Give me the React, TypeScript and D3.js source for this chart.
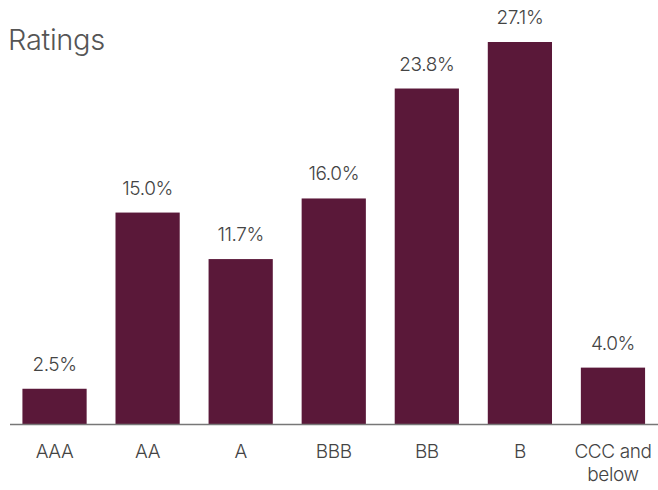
import React from "react";
import * as d3 from "d3";

const categories = ["AAA", "AA", "A", "BBB", "BB", "B", "CCC and below"];
const values = [2.5, 15.0, 11.7, 16.0, 23.8, 27.1, 4.0];
const categoryLines = [["AAA"], ["AA"], ["A"], ["BBB"], ["BB"], ["B"], ["CCC and", "below"]];
const title = "Ratings";

const W = 658;
const H = 490;
const baseY = 424;
const font = "Inter, 'Noto Sans', sans-serif";

export default function App() {
  const x = d3.scaleBand<string>().domain(categories).range([8, 659.5]).paddingInner(0.31).paddingOuter(0.155);
  const y = d3.scaleLinear().domain([0, 27.1]).range([baseY, 42]);
  return (
    <svg width={W} height={H} style={{ position: "absolute", left: 0, top: 0 }} fontFamily={font}>
      <rect width={W} height={H} fill="#fff" />
      <text x={8} y={50} fontSize={29} fill="#555" fontWeight={300} letterSpacing={-0.3}>{title}</text>
      {categories.map((c, i) => {
        const bx = x(c)!;
        const cx = bx + x.bandwidth() / 2;
        return (
          <g key={c}>
            <rect x={bx} y={y(values[i])} width={x.bandwidth()} height={baseY - y(values[i])} fill="#5A1839" />
            <text x={cx} y={y(values[i]) - 18} textAnchor="middle" fontSize={19} fill="#444" fontWeight={300} letterSpacing={-0.4}>
              {values[i].toFixed(1) + "%"}
            </text>
            {categoryLines[i].map((ln, j) => (
              <text key={j} x={cx} y={458 + j * 23} textAnchor="middle" fontSize={19} fill="#444" fontWeight={300} letterSpacing={-0.4}>
                {ln}
              </text>
            ))}
          </g>
        );
      })}
      <line x1={10} x2={658} y1={baseY + 0.5} y2={baseY + 0.5} stroke="#777" strokeWidth={1.5} />
    </svg>
  );
}
